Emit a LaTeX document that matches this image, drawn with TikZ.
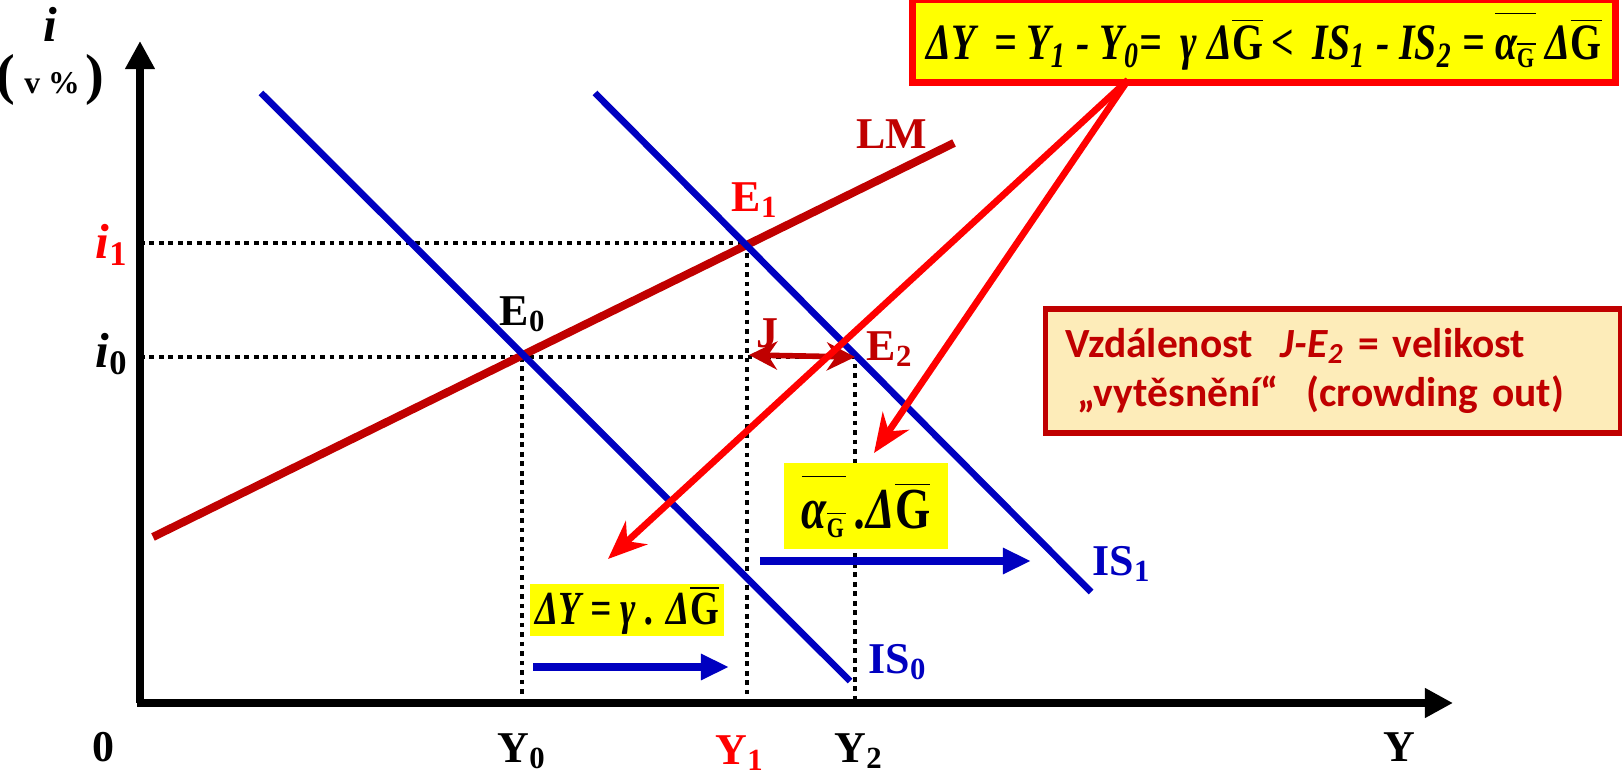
\documentclass[tikz,border=0pt]{standalone}
\usepackage{fontspec}
\setmainfont{Liberation Serif}
\newfontfamily\eqfont{Liberation Serif}[FakeStretch=0.78]
\newfontfamily\notefont{Carlito}
\usetikzlibrary{positioning,calc}
\usetikzlibrary{arrows.meta}
\definecolor{LmRed}{RGB}{192,0,0}
\definecolor{IsBlue}{RGB}{0,0,192}
\definecolor{HiYellow}{RGB}{255,255,0}
\definecolor{NoteFill}{RGB}{253,236,185}
\newcommand{\barG}{$\overline{\mbox{\upshape G}}$}
\newcommand{\alphaG}{$\overline{\rule{0pt}{0.8em}\mbox{α}_{\overline{\mbox{\upshape\fontsize{8}{9}\selectfont G}}}}$}
\tikzset{
  axis/.style={line width=2pt,-{Triangle[length=8pt,width=8pt]}},
  lmline/.style={draw=LmRed,line width=2.3pt},
  isline/.style={draw=IsBlue,line width=1.9pt},
  guide/.style={line width=1.3pt,dash pattern=on 1.3pt off 1.4pt},
  isshift/.style={draw=IsBlue,line width=2pt,-{Triangle[length=8pt,width=7pt]}},
  pointer/.style={draw=red,line width=1.9pt,-{Stealth[length=11pt,width=9pt]}},
}
\tikzset{lab/.style={font=\fontsize{12.5}{14}\selectfont\bfseries,inner sep=1pt},
  hl/.style={fill=HiYellow,inner sep=0pt,font=\eqfont\fontsize{13.5}{15}\selectfont\bfseries\itshape},
  topbox/.style={draw=red,line width=2pt,fill=HiYellow,minimum width=7.02cm,minimum height=0.71cm,
    font=\eqfont\fontsize{14.5}{16}\selectfont\bfseries\itshape},
  note/.style={draw=LmRed,line width=1.5pt,fill=NoteFill,minimum width=5.75cm,minimum height=1.24cm,
    text width=5.35cm,inner xsep=0.2cm,align=left,text=LmRed,font=\notefont\fontsize{11.8}{14}\selectfont\bfseries}}

\begin{document}
\begin{tikzpicture}[x=0.01cm,y=-0.01cm]
\useasboundingbox (0,0) rectangle (1622,774);
% axes
\coordinate (O) at (140,703);
\coordinate (ytop) at (140,41);
\coordinate (xend) at (1453,703);
\draw[axis] (O) -- (ytop);
\draw[axis] ($(O)+(-3,0)$) -- (xend);
% equilibria
\coordinate (E0) at (522,357);
\coordinate (E1) at (747,243);
\coordinate (E2) at (855,357);
\coordinate (i1) at (140,243);
\coordinate (i0) at (140,357);
\coordinate (Y0) at (522,703);
\coordinate (Y1) at (747,703);
\coordinate (Y2) at (855,703);
\draw[guide] (i1) -- (E1) -- (Y1);
\draw[guide] (i0) -- (E2) -- (Y2);
\draw[guide] (E0) -- (Y0);
% curves
\coordinate (lmA) at (153,537);
\coordinate (lmB) at (954,143);
\coordinate (is0A) at (261,93);
\coordinate (is0B) at (850,681);
\coordinate (is1A) at (595,93);
\coordinate (is1B) at (1091,592);
\draw[lmline] (lmA) -- (lmB);
\draw[isline] (is0A) -- (is0B);
\draw[isline] (is1A) -- (is1B);
% crowding out distance
\coordinate (J) at (749,355);
\draw[draw=LmRed,line width=1.6pt,{Stealth[length=8pt,width=8pt]}-{Stealth[length=8pt,width=8pt]}] (J) -- (E2);
% shifts of IS
\coordinate (s0a) at (533,667);
\coordinate (s0b) at (729,667);
\coordinate (s1a) at (760,561);
\coordinate (s1b) at (1031,561);
\draw[isshift] (s0a) -- (s0b);
\draw[isshift] (s1a) -- (s1b);
% labels
\node[lab,font=\fontsize{14}{16}\selectfont\bfseries\itshape] (li) at (50,24) {i};
\node[lab] (lpct) at (50,80) {\fontsize{16}{17}\selectfont(\,\fontsize{9}{10}\selectfont v \%\,\fontsize{16}{17}\selectfont)};
\node[lab,text=red,font=\fontsize{14}{16}\selectfont\bfseries\itshape] (li1) at (112,245) {i\textsubscript{\upshape 1}};
\node[lab,font=\fontsize{14}{16}\selectfont\bfseries\itshape] (li0) at (112,354) {i\textsubscript{\upshape 0}};
\node[lab] (l0) at (103,747) {0};
\node[lab] (lY0) at (522,751) {Y\textsubscript{0}};
\node[lab,text=red] (lY1) at (740,753) {Y\textsubscript{1}};
\node[lab] (lY2) at (859,751) {Y\textsubscript{2}};
\node[lab] (lY) at (1399,747) {Y};
\node[lab,text=LmRed] (lLM) at (892,134) {LM};
\node[lab,text=red] (lE1) at (755,200) {E\textsubscript{1}};
\node[lab] (lE0) at (523,314) {E\textsubscript{0}};
\node[lab,text=LmRed] (lE2) at (890,349) {E\textsubscript{2}};
\node[lab,text=LmRed] (lJ) at (767,333) {J};
\node[lab,text=IsBlue] (lIS0) at (898,662) {IS\textsubscript{0}};
\node[lab,text=IsBlue] (lIS1) at (1122,564) {IS\textsubscript{1}};
% boxes
\node[hl,minimum width=1.93cm,minimum height=0.52cm] (dY) at (627,610) {ΔY = γ . Δ\barG};
\node[hl,minimum width=1.63cm,minimum height=0.86cm,font=\eqfont\fontsize{16.5}{18}\selectfont\bfseries\itshape] (dA) at (866,506) {\alphaG\,.Δ\barG};
\node[topbox] (eq) at (1264,41) {ΔY \,= Y\textsubscript{1} - Y\textsubscript{0}= \,γ Δ\barG\,< \,IS\textsubscript{1} - IS\textsubscript{2} = \alphaG\ Δ\barG};
\node[note] (crowd) at (1333,371) {Vzdálenost \ \textit{J-E}\textsubscript{\textit{2}} = velikost\\ \hspace{0.3em}„vytěsnění“ \ (crowding out)};
% pointers
\coordinate (src) at (1128,80);
\coordinate (tipA) at (608,559);
\coordinate (tipB) at (874,453);
\draw[pointer] (src) -- (tipA);
\draw[pointer] (src) -- (tipB);
\end{tikzpicture}
\end{document}
